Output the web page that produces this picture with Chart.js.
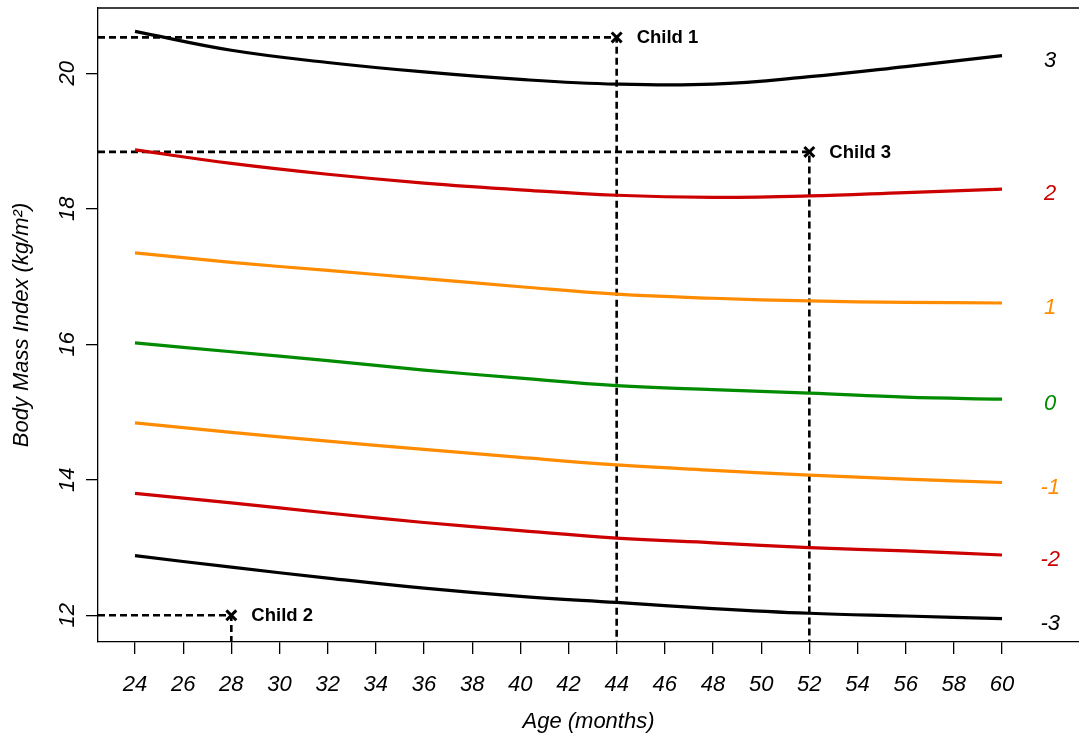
<!DOCTYPE html>
<html><head><meta charset="utf-8">
<script src="https://cdn.jsdelivr.net/npm/chart.js@4/dist/chart.umd.min.js"></script>
<style>html,body{margin:0;padding:0;background:#fff;overflow:hidden;}#wrap{width:1079px;height:742px;position:relative;}</style>
</head><body><div id="wrap"><canvas id="c"></canvas></div>
<script>
// ---- data ----
const months   = [24, 28, 32, 36, 40, 44, 48, 52, 56, 60];
const sdPlus3  = [20.62, 20.34, 20.16, 20.02, 19.91, 19.84, 19.84, 19.95, 20.10, 20.26];
const sdPlus2  = [18.87, 18.67, 18.51, 18.38, 18.28, 18.20, 18.17, 18.19, 18.24, 18.29];
const sdPlus1  = [17.35, 17.21, 17.09, 16.97, 16.85, 16.74, 16.68, 16.64, 16.62, 16.61];
const sdZero   = [16.02, 15.89, 15.76, 15.62, 15.50, 15.39, 15.33, 15.28, 15.22, 15.19];
const sdMinus1 = [14.84, 14.70, 14.57, 14.45, 14.33, 14.22, 14.14, 14.07, 14.01, 13.96];
const sdMinus2 = [13.80, 13.66, 13.51, 13.37, 13.25, 13.14, 13.07, 13.00, 12.95, 12.89];
const sdMinus3 = [12.88, 12.71, 12.55, 12.40, 12.28, 12.19, 12.10, 12.03, 11.99, 11.95];
const curveLabels = ['3', '2', '1', '0', '-1', '-2', '-3'];
const curveColors = ['#000000', '#CD0000', '#FF8C00', '#008B00', '#FF8C00', '#CD0000', '#000000'];
const childNames = ['Child 1', 'Child 2', 'Child 3'];
const childAges  = [44, 28, 52];
const childBmi   = [20.53, 12.0, 18.84];
const xTickLabels = [24, 26, 28, 30, 32, 34, 36, 38, 40, 42, 44, 46, 48, 50, 52, 54, 56, 58, 60];
const yTickLabels = [12, 14, 16, 18, 20];
const xMin = 22.464, xMax = 63.197, yMin = 11.606, yMax = 20.964;

const FONT = '"Liberation Sans", Arial, Helvetica, sans-serif';
const allCurves = [sdPlus3, sdPlus2, sdPlus1, sdZero, sdMinus1, sdMinus2, sdMinus3];

const datasets = [];
allCurves.forEach((vals, i) => {
  datasets.push({
    label: 'SD ' + curveLabels[i],
    data: months.map((m, j) => ({x: m, y: vals[j]})),
    borderColor: curveColors[i],
    borderWidth: 3.2,
    pointRadius: 0,
    tension: 0.4,
    fill: false
  });
});
childAges.forEach((age, i) => {
  datasets.push({
    label: childNames[i] + ' guide',
    data: [{x: xMin, y: childBmi[i]}, {x: age, y: childBmi[i]}, {x: age, y: yMin}],
    borderColor: '#000',
    borderWidth: 2.6,
    borderDash: [7, 4],
    pointRadius: 0,
    tension: 0,
    fill: false
  });
});
datasets.push({
  label: 'Children',
  data: childAges.map((a, i) => ({x: a, y: childBmi[i]})),
  showLine: false,
  pointStyle: 'crossRot',
  pointRadius: 7,
  pointBorderWidth: 3,
  borderColor: '#000',
  backgroundColor: '#000'
});

const decor = {
  id: 'decor',
  afterDraw(chart) {
    const ctx = chart.ctx, ca = chart.chartArea;
    const xs = chart.scales.x, ys = chart.scales.y;
    ctx.save();
    ctx.strokeStyle = '#000'; ctx.lineWidth = 1.3;
    ctx.beginPath(); ctx.moveTo(ca.left, ca.top); ctx.lineTo(ca.right, ca.top); ctx.stroke();
    ctx.fillStyle = '#000';
    ctx.font = 'italic 22px ' + FONT;
    ctx.textAlign = 'center'; ctx.textBaseline = 'middle';
    yTickLabels.forEach(v => {
      const py = ys.getPixelForValue(v);
      ctx.save(); ctx.translate(68, py); ctx.rotate(-Math.PI / 2);
      ctx.fillText(String(v), 0, 0); ctx.restore();
    });
    ctx.font = 'italic 22px ' + FONT;
    ctx.fillText('Age (months)', (ca.left + ca.right) / 2, 722);
    ctx.save(); ctx.translate(22, (ca.top + ca.bottom) / 2); ctx.rotate(-Math.PI / 2);
    ctx.fillText('Body Mass Index (kg/m²)', 0, 0); ctx.restore();
    ctx.font = 'italic 22px ' + FONT;
    allCurves.forEach((vals, i) => {
      ctx.fillStyle = curveColors[i];
      ctx.fillText(curveLabels[i], xs.getPixelForValue(62), ys.getPixelForValue(vals[vals.length - 1]) + 5);
    });
    ctx.fillStyle = '#000';
    ctx.font = 'bold 18.5px ' + FONT;
    ctx.textAlign = 'left';
    childNames.forEach((n, i) => {
      ctx.fillText(n, xs.getPixelForValue(childAges[i]) + 20, ys.getPixelForValue(childBmi[i]) + 1);
    });
    ctx.restore();
  }
};

new Chart(document.getElementById('c'), {
  type: 'line',
  data: {datasets},
  plugins: [decor],
  options: {
    responsive: true,
    maintainAspectRatio: false,
    animation: false,
    layout: {autoPadding: false, padding: {top: 8, left: 0, right: 0, bottom: 0}},
    plugins: {legend: {display: false}, tooltip: {enabled: false}},
    scales: {
      x: {
        type: 'linear', min: xMin, max: xMax,
        afterBuildTicks: s => { s.ticks = xTickLabels.map(v => ({value: v})); },
        afterFit: s => { s.height = 100; s.paddingLeft = 0; s.paddingRight = 0; },
        ticks: {color: '#000', font: {family: FONT, size: 22, style: 'italic'}, padding: 18, maxRotation: 0, minRotation: 0},
        grid: {drawOnChartArea: false, drawTicks: true, tickLength: 12, color: '#000', lineWidth: 1.3},
        border: {display: true, color: '#000', width: 1.3}
      },
      y: {
        type: 'linear', min: yMin, max: yMax,
        afterBuildTicks: s => { s.ticks = yTickLabels.map(v => ({value: v})); },
        afterFit: s => { s.width = 98; s.paddingTop = 0; s.paddingBottom = 0; },
        ticks: {display: false},
        grid: {drawOnChartArea: false, drawTicks: true, tickLength: 12, color: '#000', lineWidth: 1.3},
        border: {display: true, color: '#000', width: 1.3}
      }
    }
  }
});
</script></body></html>
